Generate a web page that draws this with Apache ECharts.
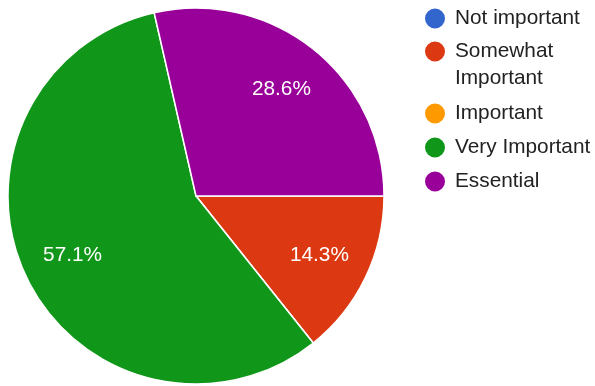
<!DOCTYPE html>
<html>
<head>
<meta charset="utf-8">
<script src="https://cdn.jsdelivr.net/npm/echarts@6/dist/echarts.min.js"></script>
<style>
  html, body { margin: 0; padding: 0; background: #fff; }
  #chart { width: 595px; height: 386px; }
</style>
</head>
<body>
<div id="chart"></div>
<script>
// answers and how many picked each one
const categories = ['Not important', 'Somewhat Important', 'Important', 'Very Important', 'Essential'];
const responses = [0, 1, 0, 4, 2];
const sliceColors = ['#3366cc', '#dc3912', '#ff9900', '#109618', '#990099'];

const pieData = categories.map((name, i) => ({ name: name, value: responses[i] }));

const chart = echarts.init(document.getElementById('chart'));

const legendText = {
    fontSize: 20.8,
    color: '#222',
    lineHeight: 27,
    width: 140,
    overflow: 'break',
    padding: [0, 0, 0, 4]
};

// legend is split in three so the wrapped entry keeps its dot on the first line
function legendPart(names, top, extra) {
    return Object.assign({
        orient: 'vertical',
        left: 423,
        top: top,
        padding: 0,
        itemGap: 7,
        itemWidth: 22,
        itemHeight: 22,
        icon: 'circle',
        selectedMode: false,
        textStyle: legendText,
        data: names
    }, extra || {});
}

chart.setOption({
    animation: false,
    color: sliceColors,
    textStyle: { fontFamily: '"Liberation Sans", Arial, sans-serif' },
    legend: [
        legendPart(categories.slice(0, 1), 5),
        legendPart(categories.slice(1, 2), 11, { formatter: '\n{name}' }),
        legendPart(categories.slice(2), 100)
    ],
    series: [
        {
            type: 'pie',
            center: [196, 196],
            radius: [0, 188],
            startAngle: 0,
            clockwise: true,
            percentPrecision: 1,
            itemStyle: { borderColor: '#fff', borderWidth: 1.5 },
            label: { show: false },
            labelLine: { show: false },
            emphasis: { disabled: true },
            data: pieData
        },
        {
            // invisible ring used only to put the percent labels further out
            type: 'pie',
            center: [196, 196],
            radius: [80, 188],
            startAngle: 0,
            clockwise: true,
            percentPrecision: 1,
            silent: true,
            minShowLabelAngle: 1,
            itemStyle: { color: 'rgba(0,0,0,0)', borderWidth: 0 },
            label: {
                show: true,
                position: 'inside',
                formatter: '{d}%',
                color: '#fff',
                fontSize: 20.8
            },
            labelLine: { show: false },
            emphasis: { disabled: true },
            data: pieData
        }
    ]
});
</script>
</body>
</html>
